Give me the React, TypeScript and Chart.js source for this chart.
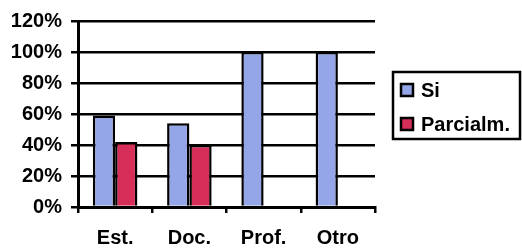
import React, { useEffect, useRef } from "react";
import { Chart, registerables } from "chart.js";

Chart.register(...registerables);

const categories = ["Est.", "Doc.", "Prof.", "Otro"];
const siValues = [0.59, 0.54, 1.0, 1.0];
const parcialValues: (number | null)[] = [0.42, 0.4, null, null];
const seriesNames = ["Si", "Parcialm."];
const yTicks = [0, 0.2, 0.4, 0.6, 0.8, 1.0, 1.2];

const FONT = "'Liberation Sans', Arial, sans-serif";
const BLUE = "#94A6E8";
const RED = "#D62E58";

const boxLegend = {
  id: "boxLegend",
  afterDraw(chart: any) {
    const ctx = chart.ctx;
    const x0 = 393, y0 = 72, w = 127, h = 67;
    ctx.save();
    ctx.lineWidth = 2.5;
    ctx.strokeStyle = "#000";
    ctx.strokeRect(x0, y0, w, h);
    const rows = [90, 124];
    chart.data.datasets.forEach((ds: any, i: number) => {
      const cy = rows[i];
      ctx.fillStyle = ds.backgroundColor;
      ctx.fillRect(401, cy - 6, 12, 12);
      ctx.lineWidth = 2.5;
      ctx.strokeStyle = "#000";
      ctx.strokeRect(401, cy - 6, 12, 12);
      ctx.fillStyle = "#000";
      ctx.font = `bold 20px ${FONT}`;
      ctx.textBaseline = "middle";
      ctx.textAlign = "left";
      ctx.fillText(ds.label, 421, cy + 1);
    });
    ctx.restore();
  },
};

export default function App() {
  const ref = useRef<HTMLCanvasElement | null>(null);
  useEffect(() => {
    document.body.style.margin = "0";
    const chart = new Chart(ref.current as HTMLCanvasElement, {
      type: "bar",
      data: {
        labels: categories,
        datasets: [
          {
            label: seriesNames[0],
            data: siValues,
            backgroundColor: BLUE,
            borderColor: "#000",
            borderWidth: 2.5,
            categoryPercentage: 0.6,
            barPercentage: 1.0,
          },
          {
            label: seriesNames[1],
            data: parcialValues,
            backgroundColor: RED,
            borderColor: "#000",
            borderWidth: 2.5,
            categoryPercentage: 0.6,
            barPercentage: 1.0,
          },
        ],
      },
      options: {
        animation: false,
        responsive: false,
        devicePixelRatio: 1,
        layout: { padding: { top: 19, right: 147, left: 0, bottom: 0 } },
        plugins: { legend: { display: false }, tooltip: { enabled: false } },
        scales: {
          x: {
            offset: true,
            grid: {
              offset: true,
              drawOnChartArea: false,
              drawTicks: true,
              tickLength: 6,
              color: "#000",
              lineWidth: 2.5,
            },
            border: { display: true, color: "#000", width: 3 },
            ticks: {
              color: "#000",
              font: { family: FONT, size: 20, weight: "bold" },
              padding: 13,
            },
            afterFit: (s: any) => {
              s.height = 43;
            },
          },
          y: {
            min: 0,
            max: 1.2,
            afterBuildTicks: (s: any) => {
              s.ticks = yTicks.map((v) => ({ value: v }));
            },
            grid: {
              color: "#000",
              lineWidth: 2.5,
              drawTicks: true,
              tickLength: 7,
            },
            border: { display: true, color: "#000", width: 3 },
            ticks: {
              color: "#000",
              font: { family: FONT, size: 20, weight: "bold" },
              padding: 9,
              callback: (v: any) => `${Math.round(Number(v) * 100)}%`,
            },
            afterFit: (s: any) => {
              s.width = 78;
            },
          },
        },
      },
      plugins: [boxLegend],
    });
    return () => chart.destroy();
  }, []);
  return (
    <div style={{ width: 522, height: 250, background: "#fff" }}>
      <canvas ref={ref} width={522} height={250} />
    </div>
  );
}
